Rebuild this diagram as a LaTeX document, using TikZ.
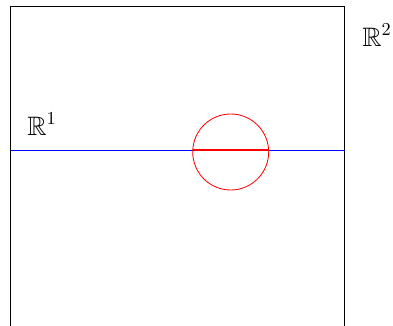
\documentclass[tikz,border=0pt]{standalone}
\usepackage{amsmath,amssymb}
\usepackage{tikz}
\usetikzlibrary{positioning}

\begin{document}
\begin{tikzpicture}[x=0.6pt,y=0.6pt,every node/.style={font=\fontsize{16}{19}\selectfont}]
      \tikzstyle{lbl}=[inner sep=0pt];
      \useasboundingbox (0,0) rectangle (393,326);
      \coordinate (bl) at (10.5,0);
      \coordinate (tl) at (10.5,319);
      \coordinate (tr) at (344.5,319);
      \coordinate (br) at (344.5,0);
      \coordinate (lineL) at (10.5,176);
      \coordinate (lineR) at (344.5,176);
      \coordinate (ctr) at (230.7,174);
      \coordinate (chordL) at (192.5,176);
      \coordinate (chordR) at (269,176);
      \node[lbl] (R2) at (377,291) {$\mathbb{R}^2$};
      \node[lbl] (R1) at (42,202) {$\mathbb{R}^1$};
      \draw[black,line width=0.6pt] (bl)--(tl)--(tr)--(br);
      \draw[blue,line width=0.5pt]  (lineL)--(lineR);
      \draw[red,line width=0.5pt]   (ctr) circle (38);
      \draw[red,line width=0.8pt]   (chordL)--(chordR);
    \end{tikzpicture}
\end{document}
